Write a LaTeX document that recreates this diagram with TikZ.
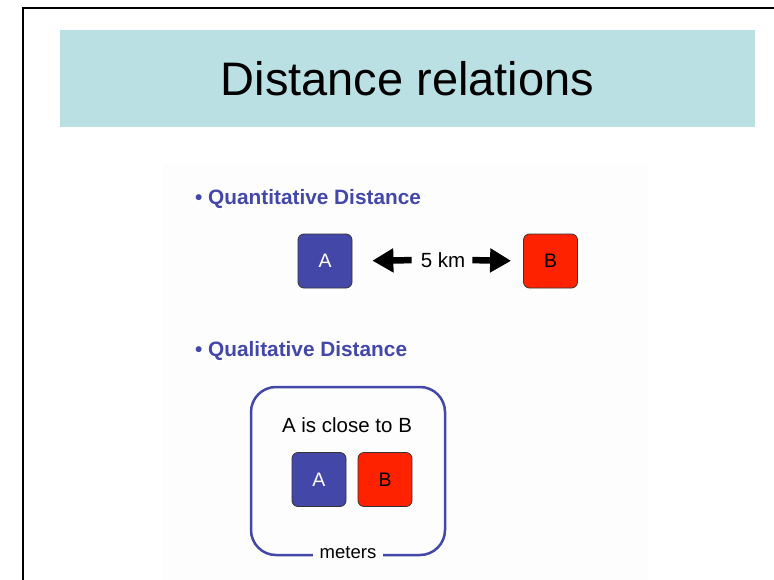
\documentclass[tikz,border=0pt]{standalone}
\usepackage{fontspec}
\setmainfont{Liberation Sans}
\usetikzlibrary{arrows.meta}
\definecolor{band}{RGB}{186,224,227}
\definecolor{qblue}{RGB}{67,72,168}
\definecolor{bred}{RGB}{255,34,0}
\definecolor{panel}{RGB}{253,253,253}
\tikzset{
  sq/.style={draw=black!80, line width=0.8pt, rounded corners=6pt, minimum width=54pt, minimum height=54pt, inner sep=0pt, font=\fontsize{19.5}{22}\selectfont},
  sqa/.style={sq, fill=qblue, text=white},
  sqb/.style={sq, fill=bred, text=black},
  head/.style={text=qblue, font=\bfseries\fontsize{20.8}{24}\selectfont, anchor=west, inner sep=0pt},
  bigarrow/.style={line width=6.5pt, -{Triangle[length=21pt,width=23pt]}},
  plain/.style={inner sep=0pt, font=\fontsize{20.5}{24}\selectfont},
}
\begin{document}
\begin{tikzpicture}[x=1pt,y=-1pt]
\useasboundingbox (0,0) rectangle (774,579);
\clip (0,0) rectangle (774,579);
\fill[white] (0,0) rectangle (774,579);
% outer frame
\draw[black, line width=2.5pt] (23,600) -- (23,8) -- (800,8);
% title band
\fill[band] (60,30) rectangle (755,127);
\node[inner sep=0pt, font=\fontsize{47}{56}\selectfont] (title) at (407.5,79) {Distance relations};
% panel
\fill[panel] (163,164) rectangle (648,600);
% quantitative
\node[head] (q1) at (195,199) {\textbullet\ Quantitative Distance};
\node[sqa] (A1) at (325,261) {A};
\node[sqb] (B1) at (550.5,261) {B};
\node[plain] (km) at (443,260) {5 km};
\draw[bigarrow, shorten <=9pt, shorten >=20pt] (km.west) -- (A1.east);
\draw[bigarrow, shorten <=7pt, shorten >=12pt] (km.east) -- (B1.west);
% qualitative
\node[head] (q2) at (195,351) {\textbullet\ Qualitative Distance};
\draw[qblue, line width=2.5pt, rounded corners=25pt] (251,387) rectangle (445,555);
\node[plain] (close) at (347,425) {A is close to B};
\node[sqa] (A2) at (319,479.5) {A};
\node[sqb] (B2) at (385,479.5) {B};
\node[fill=panel, inner xsep=7pt, inner ysep=2pt, font=\fontsize{18.5}{22}\selectfont] (m) at (348,553) {meters};
\end{tikzpicture}
\end{document}
